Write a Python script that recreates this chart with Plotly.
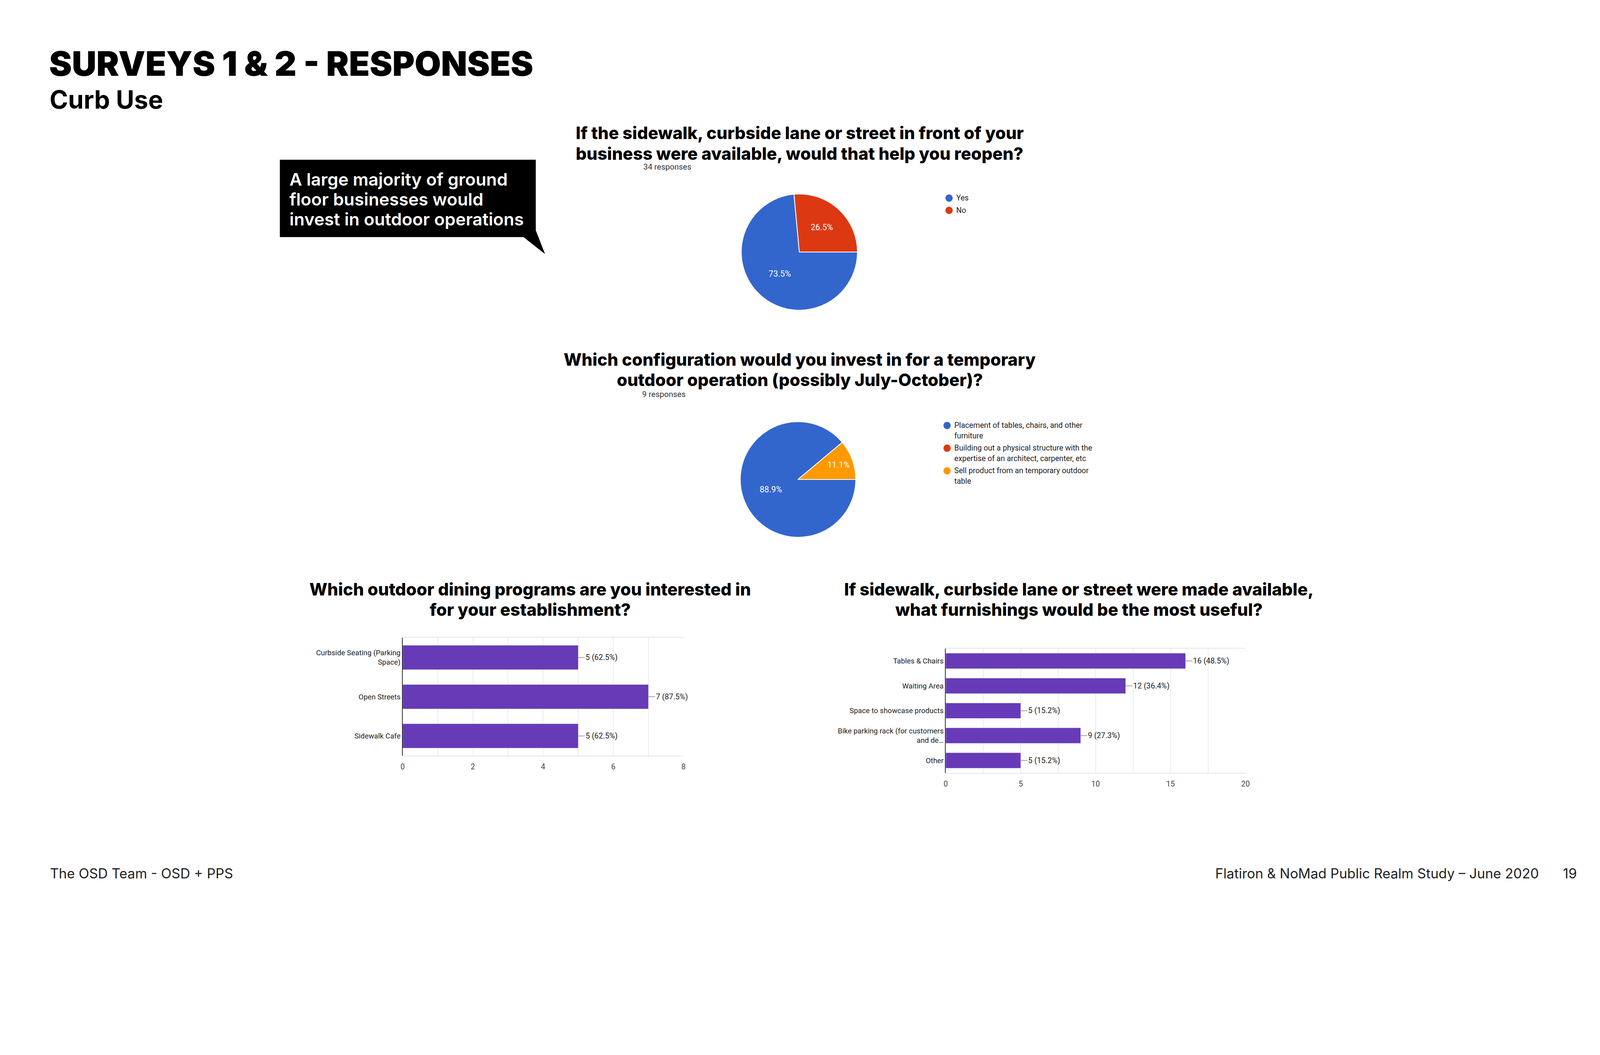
import textwrap
import plotly.graph_objects as go

# The page is photographed at 4800x2700 device px; the CSS viewport is smaller
# (device scale ~4800/4096) and the body keeps its default 8px margin.
S = 4800 / 4096
BODY = 8
FW, FH = 4096 - 2 * BODY, 2304 - 2 * BODY


def X(px):
    return (px / S - BODY) / FW


def Y(py):
    return 1 - (py / S - BODY) / FH


def F(size):
    return size / S


# ---------------- data ----------------
page_title = "SURVEYS 1 & 2 - RESPONSES"
page_subtitle = "Curb Use"
callout_lines = ["A large majority of ground", "floor businesses would", "invest in outdoor operations"]
footer_left = "The OSD Team - OSD + PPS"
footer_right = "Flatiron & NoMad Public Realm Study \u2013 June 2020"
page_number = "19"

q1_title = "If the sidewalk, curbside lane or street in front of your<br>business were available, would that help you reopen?"
q1_responses = "34 responses"
q1_labels = ["Yes", "No"]
q1_values = [25, 9]
q1_colors = ["#3366CC", "#DC3912"]

q2_title = "Which configuration would you invest in for a temporary<br>outdoor operation (possibly July-October)?"
q2_responses = "9 responses"
q2_labels = [
    "Placement of tables, chairs, and other furniture",
    "Building out a physical structure with the expertise of an architect, carpenter, etc",
    "Sell product from an temporary outdoor table",
]
q2_values = [8, 0, 1]
q2_colors = ["#3366CC", "#DC3912", "#FF9900"]

q3_title = "Which outdoor dining programs are you interested in<br>for your establishment?"
q3_categories = ["Curbside Seating (Parking<br>Space)", "Open Streets", "Sidewalk Cafe"]
q3_counts = [5, 7, 5]
q3_total = 8
q3_ticks = [0, 2, 4, 6, 8]

q4_title = "If sidewalk, curbside lane or street were made available,<br>what furnishings would be the most useful?"
q4_categories = [
    "Tables & Chairs",
    "Waiting Area",
    "Space to showcase products",
    "Bike parking rack (for customers<br>and de\u2026",
    "Other",
]
q4_counts = [16, 12, 5, 9, 5]
q4_total = 33
q4_ticks = [0, 5, 10, 15, 20]

BAR_COLOR = "#673AB7"
HEAD_FONT = "Inter"
CHART_FONT = "Roboto"

fig = go.Figure()
annotations = []
shapes = []


# ---------------- pies ----------------
def add_pie(labels, values, colors, cx, cy, r):
    tmpl = ["%{percent:.1%}" if v > 0 else "" for v in values]
    fig.add_trace(go.Pie(
        labels=labels, values=values, sort=False, direction="clockwise", rotation=90,
        marker=dict(colors=colors, line=dict(color="white", width=2)),
        texttemplate=tmpl, textposition="inside", insidetextorientation="horizontal",
        textfont=dict(family=CHART_FONT, size=F(25), color="white"),
        showlegend=False, hoverinfo="skip",
        domain=dict(x=[X(cx - r), X(cx + r)], y=[Y(cy + r), Y(cy - r)]),
    ))


add_pie(q1_labels, q1_values, q1_colors, 2401, 756, 175)
add_pie(q2_labels, q2_values, q2_colors, 2397, 1438, 174)


def legend(labels, colors, x, y0, step, wrap):
    for i, (lab, col) in enumerate(zip(labels, colors)):
        cy = y0 + i * step
        shapes.append(dict(type="circle", xref="paper", yref="paper",
                           x0=X(x - 11), x1=X(x + 11), y0=Y(cy + 11), y1=Y(cy - 11),
                           fillcolor=col, line=dict(width=0)))
        lines = textwrap.wrap(lab, wrap) if wrap else [lab]
        for j, ln in enumerate(lines):
            annotations.append(dict(text=ln, xref="paper", yref="paper", x=X(x + 21), y=Y(cy + j * 31),
                                    xanchor="left", yanchor="middle", showarrow=False, borderpad=0,
                                    font=dict(family=CHART_FONT, size=F(23), color="#222")))


legend(q1_labels, q1_colors, 2852, 594, 37, None)
legend(q2_labels, q2_colors, 2846, 1276, 68, 42)


# ---------------- bars ----------------
def add_bar(idx, cats, counts, total, ticks, minor, x0, x1, y0, y1):
    xa = "x" if idx == 1 else f"x{idx}"
    ya = "y" if idx == 1 else f"y{idx}"
    fig.add_trace(go.Bar(x=counts, y=cats, orientation="h", marker=dict(color=BAR_COLOR),
                         xaxis=xa, yaxis=ya, showlegend=False, hoverinfo="skip"))
    key = "" if idx == 1 else str(idx)
    fig.update_layout({
        f"xaxis{key}": dict(
            domain=[X(x0), X(x1)], range=[ticks[0], ticks[-1]], tickvals=ticks,
            showgrid=True, gridcolor="#ebebeb", gridwidth=1.5,
            minor=dict(tick0=0, dtick=minor, showgrid=True, gridcolor="#ebebeb", gridwidth=1.5),
            zeroline=False, showline=True, mirror=True, linecolor="#e6e6e6", linewidth=1.5,
            ticks="", tickfont=dict(family=CHART_FONT, size=F(23), color="#444"),
            ticklabelstandoff=int(round(F(12))), anchor=ya, fixedrange=True),
        f"yaxis{key}": dict(
            domain=[Y(y1), Y(y0)], type="category", autorange="reversed",
            showgrid=False, zeroline=False, showline=True, linecolor="#333", linewidth=1.5,
            ticks="", tickfont=dict(family=CHART_FONT, size=F(22), color="#222"),
            anchor=xa, fixedrange=True),
    })
    for c, v in zip(cats, counts):
        annotations.append(dict(
            x=v, y=c, xref=xa, yref=ya, text=f"{v} ({v / total:.1%})",
            showarrow=True, arrowhead=0, arrowwidth=2, arrowcolor="#9e9e9e",
            ax=F(20), ay=0, xanchor="left", standoff=0,
            font=dict(family=CHART_FONT, size=F(23), color="#222")))


add_bar(1, q3_categories, q3_counts, q3_total, q3_ticks, 1, 1206, 2052, 1913, 2266)
add_bar(2, q4_categories, q4_counts, q4_total, q4_ticks, 2.5, 2842, 3745, 1945, 2318)


# ---------------- text ----------------
def txt(s, x, y, size, weight=400, color="#000", xanchor="left", family=HEAD_FONT):
    annotations.append(dict(text=s, xref="paper", yref="paper", x=X(x), y=Y(y), xanchor=xanchor,
                            yanchor="middle", showarrow=False, borderpad=0,
                            font=dict(family=family, size=F(size), color=color, weight=weight)))


def title_lines(s, cx, y_first, size=51, step=61):
    for i, ln in enumerate(s.split("<br>")):
        txt(ln, cx, y_first + i * step, size, 800, xanchor="center")


txt(page_title, 140, 191, 102, 900)
txt(page_subtitle, 141, 298, 75, 700)

# callout
pts = [(836, 479), (1607, 479), (1607, 691), (1635, 762), (1570, 711), (836, 711)]
path = "M " + " L ".join(f"{X(a):.5f},{Y(b):.5f}" for a, b in pts) + " Z"
shapes.append(dict(type="path", xref="paper", yref="paper", path=path, fillcolor="#000", line=dict(width=0)))
for i, ln in enumerate(callout_lines):
    txt(ln, 864, 538 + i * 60, 52, 600, "#fff")

title_lines(q1_title, 2402, 399)
txt(q1_responses, 1930, 500, 24, 400, "#333", family=CHART_FONT)
title_lines(q2_title, 2402, 1078)
txt(q2_responses, 1926, 1182, 24, 400, "#333", family=CHART_FONT)
title_lines(q3_title, 1590, 1767)
title_lines(q4_title, 3243, 1767)

txt(footer_left, 142, 2619, 41, 400, "#222")
txt(footer_right, 4630, 2619, 41, 400, "#222", xanchor="right")
txt(page_number, 4745, 2619, 41, 400, "#222", xanchor="right")

fig.update_layout(
    width=FW, height=FH, margin=dict(l=0, r=0, t=0, b=0),
    paper_bgcolor="white", plot_bgcolor="white",
    bargap=0.38, annotations=annotations, shapes=shapes, showlegend=False,
)

fig.write_html("out.html")
